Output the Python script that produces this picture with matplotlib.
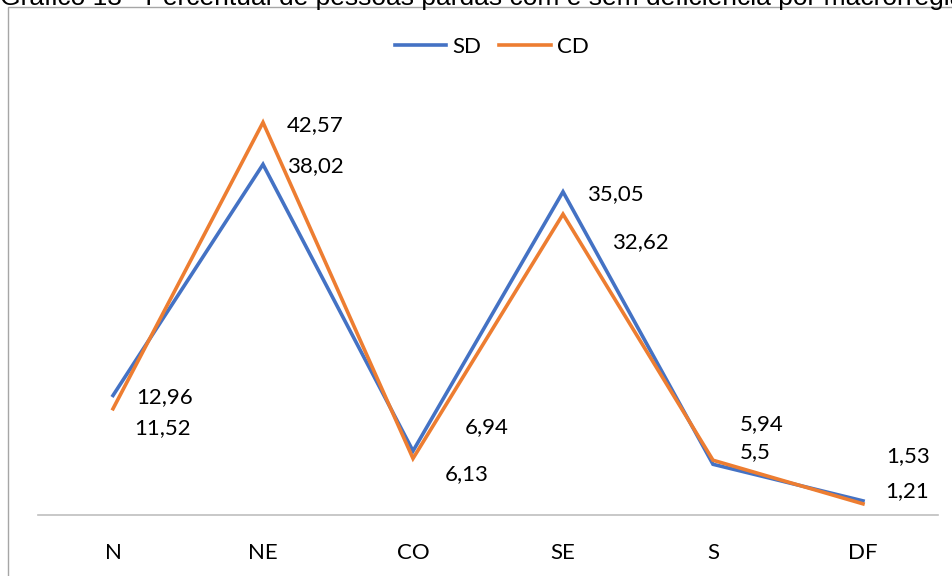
import matplotlib.pyplot as plt
from matplotlib.patches import Rectangle

# dados
regioes = ["N", "NE", "CO", "SE", "S", "DF"]
sd = [12.96, 38.02, 6.94, 35.05, 5.5, 1.53]
cd = [11.52, 42.57, 6.13, 32.62, 5.94, 1.21]
titulo = "Gráfico 13 - Percentual de pessoas pardas com e sem deficiência por macrorregião"

# deslocamento dos rótulos (pontos) em relação ao ponto
off_sd = [(17, -1), (17, -1), (37, 17), (17, -2), (19, 9), (17, 32)]
off_cd = [(15, -14), (17, -2), (23, -11), (35, -20), (19, 26), (16, 9)]

AZUL = "#4472C4"
LARANJA = "#ED7D31"
FONTE = "Lato"

fig = plt.figure(figsize=(9.53, 5.76), dpi=100)
ax = fig.add_axes([38 / 953, 61 / 576, 900 / 953, 415 / 576])

x = range(len(regioes))
ax.plot(x, sd, color=AZUL, lw=2.6, label="SD", solid_joinstyle="miter")
ax.plot(x, cd, color=LARANJA, lw=2.6, label="CD", solid_joinstyle="miter")

def fmt(v):
    return f"{v:g}".replace(".", ",")

for i in x:
    ax.annotate(fmt(sd[i]), (i, sd[i]), xytext=off_sd[i], textcoords="offset points",
                ha="left", va="center", fontsize=16, family=FONTE)
    ax.annotate(fmt(cd[i]), (i, cd[i]), xytext=off_cd[i], textcoords="offset points",
                ha="left", va="center", fontsize=16, family=FONTE)

ax.set_xlim(-0.5, 5.5)
ax.set_ylim(0, 45)
ax.set_xticks(list(x))
ax.set_xticklabels(regioes, fontsize=16, family=FONTE)
ax.tick_params(axis="x", length=0, pad=20)
ax.set_yticks([])
for s in ["top", "right", "left"]:
    ax.spines[s].set_visible(False)
ax.spines["bottom"].set_color("#BFBFBF")
ax.spines["bottom"].set_linewidth(1.2)

leg = fig.legend(loc="center", bbox_to_anchor=(492 / 953, 1 - 47 / 576), ncol=2, frameon=False,
                 prop={"family": FONTE, "size": 16}, handlelength=2.3, handletextpad=0.3,
                 columnspacing=0.8)

# borda do gráfico
fig.patches.append(Rectangle((8 / 953, -0.1), 1.1, 1.1 - 7 / 576, transform=fig.transFigure,
                             fill=False, edgecolor="#A6A6A6", lw=1.0))

fig.text(0.0, 1 - 5 / 576, titulo, ha="left", va="baseline", fontsize=19,
         family="Liberation Sans", color="black")

fig.savefig("out.png", dpi=100)
